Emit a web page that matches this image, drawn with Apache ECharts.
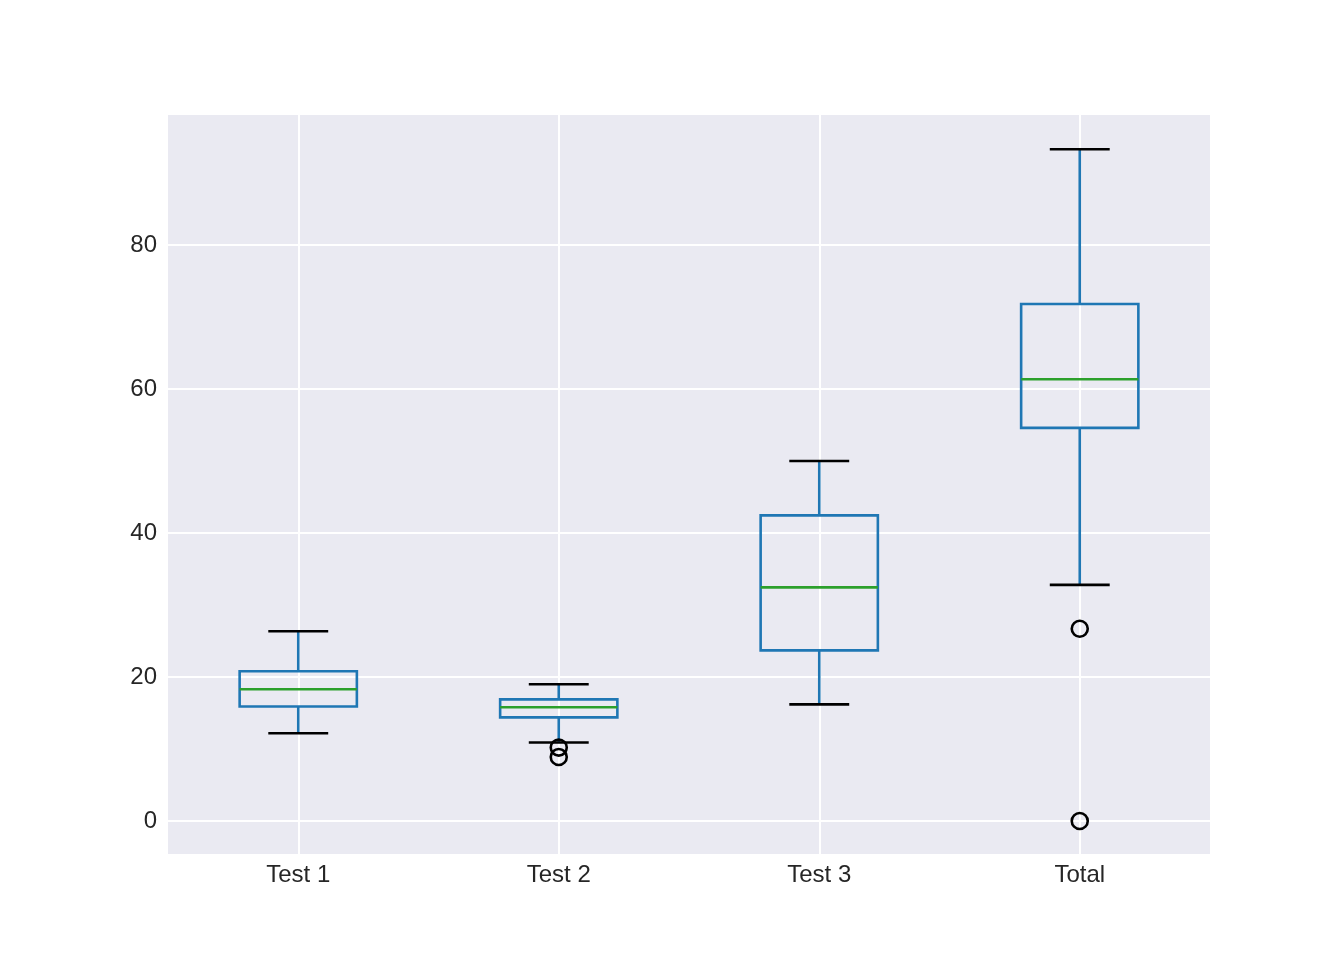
<!DOCTYPE html>
<html>
<head>
<meta charset="utf-8">
<script src="https://cdn.jsdelivr.net/npm/echarts@6/dist/echarts.min.js"></script>
<style>
html,body{margin:0;padding:0;background:#fff;}
#chart{width:1344px;height:960px;}
</style>
</head>
<body>
<div id="chart"></div>
<script>
// Categories and five-number summaries
var categories = ['Test 1', 'Test 2', 'Test 3', 'Total'];
var whiskerLow  = [12.2, 10.9, 16.2, 32.8];
var quartile1   = [15.9, 14.4, 23.7, 54.6];
var medians     = [18.3, 15.8, 32.45, 61.35];
var quartile3   = [20.8, 16.9, 42.45, 71.8];
var whiskerHigh = [26.35, 19.0, 50.0, 93.3];
// Outliers: [category index, value]
var outliers = [[1, 10.2], [1, 8.9], [3, 26.7], [3, 0]];
var yTicks = [0, 20, 40, 60, 80];

var boxData = categories.map(function (c, i) {
  return [i, whiskerLow[i], quartile1[i], medians[i], quartile3[i], whiskerHigh[i]];
});

var chart = echarts.init(document.getElementById('chart'), null, {renderer: 'canvas'});

function renderBox(params, api) {
  var idx = api.value(0);
  var band = api.size([1, 0])[0];
  var boxHalf = band * 0.225;
  var capHalf = band * 0.115;
  var pLow = api.coord([idx, api.value(1)]);
  var pQ1 = api.coord([idx, api.value(2)]);
  var pMed = api.coord([idx, api.value(3)]);
  var pQ3 = api.coord([idx, api.value(4)]);
  var pHigh = api.coord([idx, api.value(5)]);
  var cx = pMed[0];
  var blue = '#1f77b4', green = '#2ca02c', black = '#000000';
  var lw = 2.6;
  return {
    type: 'group',
    children: [
      {type: 'line', shape: {x1: cx, y1: pQ1[1], x2: cx, y2: pLow[1]}, style: {stroke: blue, lineWidth: lw}},
      {type: 'line', shape: {x1: cx, y1: pQ3[1], x2: cx, y2: pHigh[1]}, style: {stroke: blue, lineWidth: lw}},
      {type: 'rect', shape: {x: cx - boxHalf, y: pQ3[1], width: boxHalf * 2, height: pQ1[1] - pQ3[1]},
        style: {fill: 'none', stroke: blue, lineWidth: lw}},
      {type: 'line', shape: {x1: cx - boxHalf, y1: pMed[1], x2: cx + boxHalf, y2: pMed[1]}, style: {stroke: green, lineWidth: lw}},
      {type: 'line', shape: {x1: cx - capHalf, y1: pLow[1], x2: cx + capHalf, y2: pLow[1]}, style: {stroke: black, lineWidth: lw}},
      {type: 'line', shape: {x1: cx - capHalf, y1: pHigh[1], x2: cx + capHalf, y2: pHigh[1]}, style: {stroke: black, lineWidth: lw}}
    ]
  };
}

var labelFont = {color: '#262626', fontSize: 24, fontFamily: 'Liberation Sans, Arial, sans-serif'};

chart.setOption({
  animation: false,
  backgroundColor: '#ffffff',
  grid: {left: 168, right: 134, top: 115, bottom: 106, show: true, backgroundColor: '#EAEAF2', borderWidth: 0},
  xAxis: {
    type: 'value', min: -0.5, max: 3.5,
    axisLine: {show: false},
    axisTick: {show: false, customValues: [0, 1, 2, 3]},
    axisLabel: Object.assign({customValues: [0, 1, 2, 3], margin: 9,
      formatter: function (v) { return categories[Math.round(v)]; }}, labelFont),
    splitLine: {show: true, lineStyle: {color: '#ffffff', width: 2}}
  },
  yAxis: {
    type: 'value', min: -4.58, max: 98.06,
    axisLine: {show: false},
    axisTick: {show: false, customValues: yTicks},
    axisLabel: Object.assign({customValues: yTicks, margin: 11}, labelFont),
    splitLine: {show: true, lineStyle: {color: '#ffffff', width: 2}}
  },
  series: [
    {type: 'custom', renderItem: renderBox, data: boxData, encode: {x: 0, y: [1, 2, 3, 4, 5]}, z: 3},
    {type: 'scatter', data: outliers, symbol: 'circle', symbolSize: 16,
      itemStyle: {color: 'rgba(0,0,0,0)', borderColor: '#000000', borderWidth: 2.6, opacity: 1}, z: 4}
  ]
});
</script>
</body>
</html>
